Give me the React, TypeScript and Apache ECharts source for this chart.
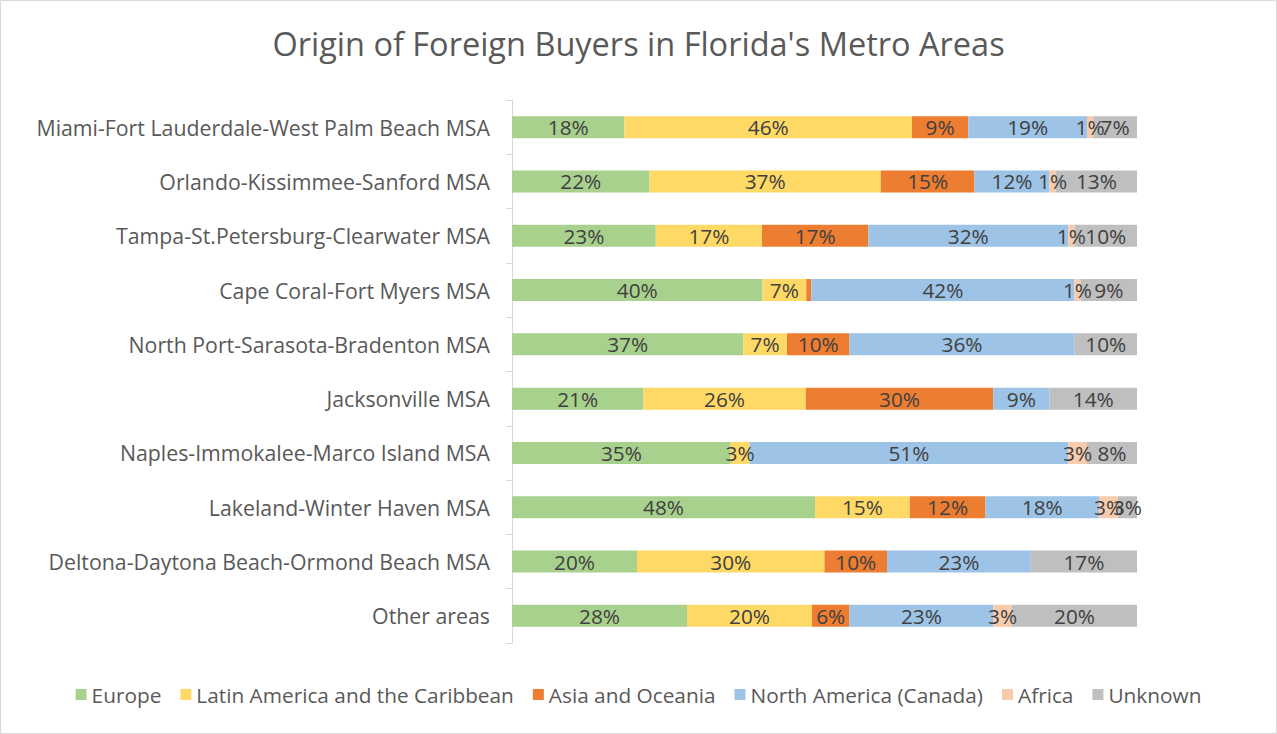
import React, { useEffect, useRef } from "react";
import * as echarts from "echarts";

const categories = [
  "Miami-Fort Lauderdale-West Palm Beach MSA",
  "Orlando-Kissimmee-Sanford MSA",
  "Tampa-St.Petersburg-Clearwater MSA",
  "Cape Coral-Fort Myers MSA",
  "North Port-Sarasota-Bradenton MSA",
  "Jacksonville MSA",
  "Naples-Immokalee-Marco Island MSA",
  "Lakeland-Winter Haven MSA",
  "Deltona-Daytona Beach-Ormond Beach MSA",
  "Other areas",
];

const europe = [18, 22, 23, 40, 37, 21, 35, 48, 20, 28];
const latinAmerica = [46, 37, 17, 7, 7, 26, 3, 15, 30, 20];
const asiaOceania = [9, 15, 17, 0.8, 10, 30, 0, 12, 10, 6];
const northAmerica = [19, 12, 32, 42, 36, 9, 51, 18, 23, 23];
const africa = [1, 1, 1, 1, 0, 0, 3, 3, 0, 3];
const unknown = [7, 13, 10, 9, 10, 14, 8, 3, 17, 20];

const seriesDefs = [
  { name: "Europe", data: europe, color: "#A9D18E" },
  { name: "Latin America and the Caribbean", data: latinAmerica, color: "#FFD966" },
  { name: "Asia and Oceania", data: asiaOceania, color: "#ED7D31" },
  { name: "North America (Canada)", data: northAmerica, color: "#9DC3E6" },
  { name: "Africa", data: africa, color: "#F8CBAD" },
  { name: "Unknown", data: unknown, color: "#BFBFBF" },
];

const FONT = "'Open Sans', sans-serif";

export default function App() {
  const ref = useRef<HTMLDivElement>(null);
  useEffect(() => {
    if (!ref.current) return;
    const chart = echarts.init(ref.current, undefined, { renderer: "svg" });
    const totals = categories.map((_, i) =>
      seriesDefs.reduce((s, d) => s + d.data[i], 0)
    );
    chart.setOption({
      animation: false,
      backgroundColor: "#ffffff",
      textStyle: { fontFamily: FONT },
      title: {
        text: "Origin of Foreign Buyers in Florida's Metro Areas",
        left: "center",
        top: 22,
        textStyle: { fontFamily: FONT, fontSize: 32.5, fontWeight: "normal", color: "#595959" },
      },
      legend: {
        bottom: 24,
        left: "center",
        icon: "rect",
        itemWidth: 11,
        itemHeight: 11,
        itemGap: 19,
        textStyle: { fontFamily: FONT, fontSize: 20.8, color: "#595959" },
        data: seriesDefs.map((d) => d.name),
      },
      graphic: [
        {
          type: "rect",
          shape: { x: 0.5, y: 0.5, width: 1276, height: 733 },
          style: { fill: "none", stroke: "#D9D9D9", lineWidth: 1 },
          silent: true,
        },
      ],
      grid: { left: 512, top: 100, width: 625, height: 543, containLabel: false },
      xAxis: { type: "value", min: 0, max: 100, show: false },
      yAxis: {
        type: "category",
        inverse: true,
        data: categories,
        axisLine: { show: true, lineStyle: { color: "#D9D9D9", width: 1 } },
        axisTick: { show: true, length: 6, lineStyle: { color: "#D9D9D9" } },
        axisLabel: { fontFamily: FONT, fontSize: 21.3, color: "#595959", margin: 22 },
      },
      series: seriesDefs.map((d) => ({
        name: d.name,
        type: "bar",
        stack: "total",
        barWidth: 22,
        itemStyle: { color: d.color },
        label: {
          show: true,
          position: "inside",
          fontFamily: FONT,
          fontSize: 20.8,
          color: "#404040",
          formatter: (p: any) => {
            const raw = d.data[p.dataIndex];
            if (raw < 1) return "";
            return Math.round(raw) + "%";
          },
        },
        data: d.data.map((v, i) => (v === 0 ? null : (v / totals[i]) * 100)),
      })),
    });
    return () => chart.dispose();
  }, []);
  return (
    <div
      ref={ref}
      style={{ position: "fixed", left: 0, top: 0, width: 1277, height: 734 }}
    />
  );
}
